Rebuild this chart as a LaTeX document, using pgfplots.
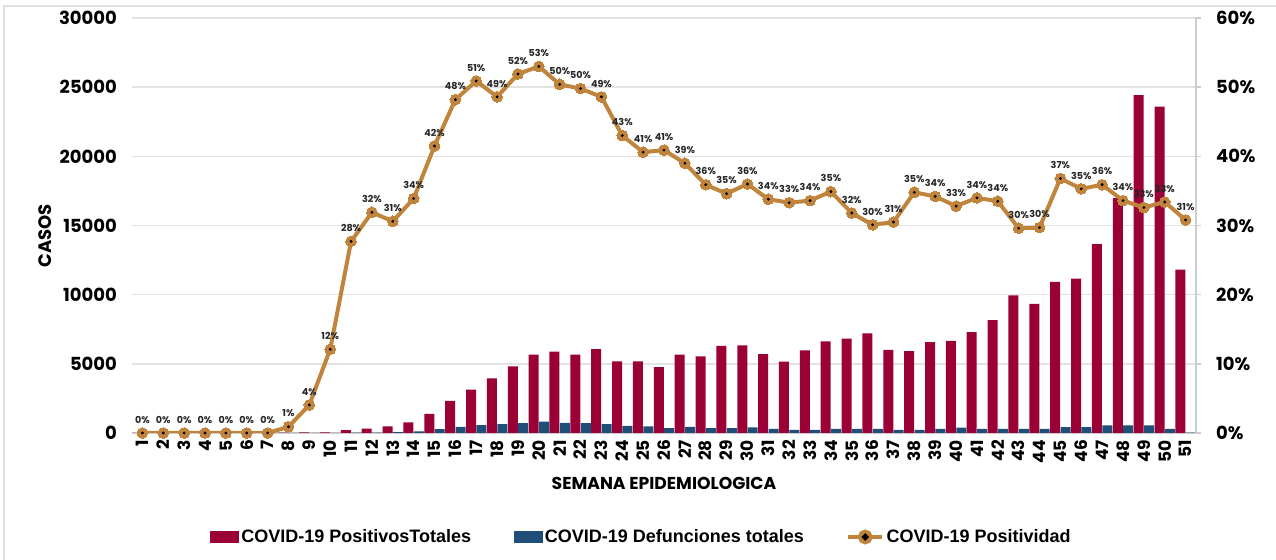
\documentclass[border=0pt]{standalone}
\usepackage{fontspec}
\usepackage{pgfplots}
\usepackage{pgfplotstable}
\pgfplotsset{compat=1.18}
\setmainfont{Poppins}
\newfontfamily\legfont{Liberation Sans}
\definecolor{crim}{RGB}{155,0,55}
\definecolor{dblue}{RGB}{31,78,121}
\definecolor{orng}{RGB}{192,132,60}
\definecolor{gridc}{RGB}{226,226,226}
\definecolor{axc}{RGB}{205,205,205}

\pgfplotstableread{
x red blue pos lbl
1 0 0 0 0
2 0 0 0 0
3 0 0 0 0
4 0 0 0 0
5 0 0 0 0
6 0 0 0 0
7 0 0 0 0
8 20 0 0.9 1
9 40 10 4.05 4
10 40 15 12.1 12
11 200 20 27.7 28
12 320 30 31.9 32
13 470 60 30.6 31
14 760 110 33.9 34
15 1390 275 41.5 42
16 2330 450 48.2 48
17 3130 560 50.9 51
18 3950 640 48.6 49
19 4820 710 51.9 52
20 5660 830 53.0 53
21 5880 740 50.4 50
22 5660 710 49.8 50
23 6070 640 48.6 49
24 5180 520 43.0 43
25 5180 470 40.6 41
26 4770 350 40.9 41
27 5660 450 39.0 39
28 5540 350 35.9 36
29 6290 350 34.6 35
30 6340 400 36.0 36
31 5710 290 33.8 34
32 5160 220 33.3 33
33 5980 220 33.6 34
34 6630 290 34.9 35
35 6820 290 31.8 32
36 7210 290 30.1 30
37 6000 220 30.5 31
38 5910 220 34.8 35
39 6560 290 34.2 34
40 6650 380 32.8 33
41 7300 290 34.0 34
42 8150 290 33.5 34
43 9950 290 29.6 30
44 9330 290 29.7 30
45 10920 430 36.8 37
46 11160 430 35.3 35
47 13660 550 35.9 36
48 16970 550 33.6 34
49 24420 550 32.6 33
50 23590 290 33.4 33
51 11810 30 30.8 31
}\data

\begin{document}
\begin{tikzpicture}
\path[use as bounding box] (-66pt,-63.5pt) rectangle (572pt,216.5pt);
\draw[gray!25, line width=0.8pt] (-64pt,-70pt) -- (-64pt,213.5pt) -- (580pt,213.5pt);
\begin{axis}[
  scale only axis, width=532pt, height=207.5pt,
  xmin=0.5, xmax=51.5, ymin=0, ymax=30000,
  axis x line*=bottom, axis y line*=left,
  x axis line style={axc, line width=0.9pt, -},
  y axis line style={draw=none},
  xtick={1,...,51}, major tick length=0pt,
  ytick={0,5000,...,30000},
  ymajorgrids, grid style={gridc, line width=0.8pt},
  /pgf/number format/1000 sep={}, scaled y ticks=false,
  /pgf/number format/assume math mode=true,
  xticklabel style={rotate=90, anchor=east, font=\bfseries\fontsize{8.5}{9}\selectfont, xshift=0pt},
  yticklabel style={font=\bfseries\fontsize{9}{10}\selectfont, xshift=-4pt},
  xlabel={SEMANA EPIDEMIOLOGICA},
  xlabel style={at={(axis description cs:0.5,-0.1205)}, anchor=center, font=\bfseries\fontsize{8.6}{10}\selectfont},
  ylabel={CASOS},
  ylabel style={at={(axis description cs:-0.0818,0.475)}, anchor=center, font=\bfseries\fontsize{9}{10}\selectfont},
]
\addplot[ybar, bar width=5pt, bar shift=-2.6pt, fill=crim, draw=none] table[x=x, y=red] {\data};
\addplot[ybar, bar width=5pt, bar shift=2.6pt, fill=dblue, draw=none] table[x=x, y=blue] {\data};
\end{axis}
\begin{axis}[
  scale only axis, width=532pt, height=207.5pt,
  xmin=0.5, xmax=51.5, ymin=0, ymax=60,
  axis x line=none, axis y line*=right,
  y axis line style={axc, line width=0.9pt, -},
  ytick={0,10,...,60}, tick align=outside, major tick length=2.5pt,
  tick style={axc, line width=0.8pt},
  /pgf/number format/assume math mode=true,
  yticklabel={\pgfmathprintnumber{\tick}\%},
  yticklabel style={font=\bfseries\fontsize{9}{10}\selectfont, xshift=4pt},
  legend columns=3,
  legend style={at={(axis description cs:0.479,-0.2506)}, anchor=center, draw=none, fill=none,
    font=\legfont\bfseries\fontsize{9}{10}\selectfont,
    nodes={inner sep=1.2pt},
    /tikz/every even column/.append style={column sep=20pt}},
]
\addlegendimage{legend image code/.code={\fill[crim] (0pt,-2.6pt) rectangle (14pt,2.6pt);}}
\addlegendentry{COVID-19 PositivosTotales}
\addlegendimage{legend image code/.code={\fill[dblue] (0pt,-2.6pt) rectangle (14pt,2.6pt);}}
\addlegendentry{COVID-19 Defunciones totales}
\addplot[color=orng, line width=2pt, mark=*, mark size=2.7pt, mark options={fill=orng, draw=orng, line width=0pt},
  point meta=explicit, nodes near coords={\pgfmathprintnumber[fixed,precision=0]{\pgfplotspointmeta}\%},
  nodes near coords style={font=\bfseries\fontsize{4.8}{5}\selectfont, text=black!85, anchor=south, yshift=1.5pt},
  legend image code/.code={\draw[orng, line width=2pt] (0pt,0pt) -- (17pt,0pt); \fill[orng] (8.5pt,0pt) circle (2.7pt); \fill[black] (8.5pt,0pt) circle (0.5pt);}]
  table[x=x, y=pos, meta=lbl] {\data};
\addlegendentry{COVID-19 Positividad}
\addplot[only marks, mark=*, mark size=0.5pt, black, forget plot] table[x=x, y=pos] {\data};
\end{axis}
\end{tikzpicture}
\end{document}
